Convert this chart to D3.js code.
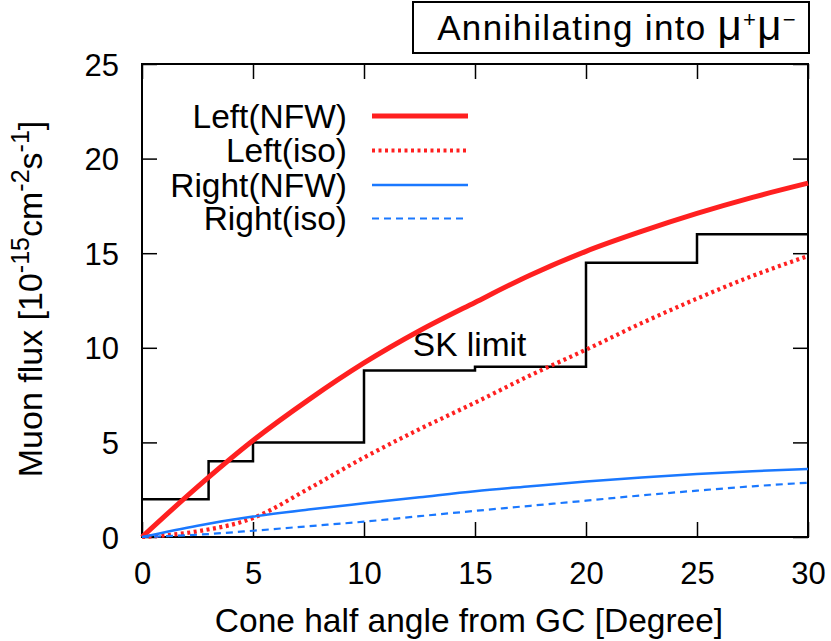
<!DOCTYPE html>
<html>
<head>
<meta charset="utf-8">
<script src="https://cdn.jsdelivr.net/npm/d3@7"></script>
<style>
  body { margin: 0; background: #fff; }
  text { font-family: "Liberation Sans", Arial, sans-serif; fill: #000; }
</style>
</head>
<body>
<div id="chart"></div>
<script>
// values
var angles = [0, 2.5, 5, 7.5, 10, 12.5, 15, 17.5, 20, 22.5, 25, 27.5, 30];
var leftNFW = [0, 2.65, 5.1, 7.25, 9.2, 10.9, 12.4, 13.85, 15.1, 16.15, 17.1, 17.95, 18.7];
var leftIso = [0, 0.3, 1.0, 2.55, 4.2, 5.7, 7.1, 8.55, 9.9, 11.3, 12.6, 13.8, 14.85];
var rightNFW = [0, 0.6, 1.08, 1.45, 1.78, 2.1, 2.42, 2.68, 2.93, 3.15, 3.33, 3.48, 3.6];
var rightIso = [0, 0.12, 0.33, 0.57, 0.81, 1.1, 1.38, 1.65, 1.92, 2.2, 2.45, 2.68, 2.87];

var skEdges = [0, 3, 5, 10, 15, 20, 25, 30];
var skLimit = [2, 4, 5, 8.8, 9, 14.5, 16];

var xTicks = [0, 5, 10, 15, 20, 25, 30];
var yTicks = [0, 5, 10, 15, 20, 25];

var svgWidth = 831;
var svgHeight = 641;
var margin = { top: 64, right: 23, bottom: 104, left: 142 };
var width = svgWidth - margin.left - margin.right;
var height = svgHeight - margin.top - margin.bottom;

var svg = d3.select("#chart").append("svg")
  .attr("width", svgWidth)
  .attr("height", svgHeight);

var g = svg.append("g")
  .attr("transform", "translate(" + margin.left + "," + margin.top + ")");

var x = d3.scaleLinear().domain([0, 30]).range([0, width]);
var y = d3.scaleLinear().domain([0, 25]).range([height, 0]);

// axes, ticks pointing inward, mirrored on top/right
var xAxis = g.append("g")
  .attr("transform", "translate(0," + height + ")")
  .call(d3.axisBottom(x).tickValues(xTicks).tickSize(-15).tickPadding(25));
var yAxis = g.append("g")
  .call(d3.axisLeft(y).tickValues(yTicks).tickSize(-15).tickPadding(23));
g.append("g")
  .call(d3.axisTop(x).tickValues(xTicks).tickSize(-15).tickFormat(""));
g.append("g")
  .attr("transform", "translate(" + width + ",0)")
  .call(d3.axisRight(y).tickValues(yTicks).tickSize(-15).tickFormat(""));

g.selectAll(".domain").remove();
g.selectAll(".tick line").attr("stroke", "#000").attr("stroke-width", 1.5);
xAxis.selectAll("text").style("font-size", "31px");
yAxis.selectAll("text").style("font-size", "31px").attr("dy", "0.36em");

g.append("rect")
  .attr("width", width)
  .attr("height", height)
  .attr("fill", "none")
  .attr("stroke", "#000")
  .attr("stroke-width", 2);

// SK limit step
var skPts = skLimit.map(function(v, i) { return [skEdges[i], v]; });
skPts.push([skEdges[skEdges.length - 1], skLimit[skLimit.length - 1]]);
g.append("path")
  .datum(skPts)
  .attr("fill", "none")
  .attr("stroke", "#000")
  .attr("stroke-width", 2.5)
  .attr("d", d3.line().x(function(d) { return x(d[0]); }).y(function(d) { return y(d[1]); }).curve(d3.curveStepAfter));

g.append("text")
  .attr("x", x(12.2))
  .attr("y", 292)
  .style("font-size", "33.5px")
  .text("SK limit");

var series = [
  { name: "Left(NFW)", vals: leftNFW, color: "#ff2020", w: 5, dash: null },
  { name: "Left(iso)", vals: leftIso, color: "#ff2020", w: 4.2, dash: "3,3.5" },
  { name: "Right(NFW)", vals: rightNFW, color: "#1a78ff", w: 2.5, dash: null },
  { name: "Right(iso)", vals: rightIso, color: "#1a78ff", w: 2.2, dash: "7,5" }
];

var line = d3.line()
  .x(function(d, i) { return x(angles[i]); })
  .y(function(d) { return y(d); })
  .curve(d3.curveMonotoneX);

series.forEach(function(s) {
  g.append("path")
    .datum(s.vals)
    .attr("fill", "none")
    .attr("stroke", s.color)
    .attr("stroke-width", s.w)
    .attr("stroke-dasharray", s.dash)
    .attr("d", line);
});

// legend
var legendY = [116, 150.5, 185, 218.5];
var leg = svg.append("g");
series.forEach(function(s, i) {
  leg.append("text")
    .attr("x", 347)
    .attr("y", legendY[i] + 11.5)
    .attr("text-anchor", "end")
    .style("font-size", "33.5px")
    .text(s.name);
  leg.append("line")
    .attr("x1", 372).attr("x2", 468)
    .attr("y1", legendY[i]).attr("y2", legendY[i])
    .attr("stroke", s.color)
    .attr("stroke-width", s.w)
    .attr("stroke-dasharray", s.dash);
});

// x label
svg.append("text")
  .attr("x", 469)
  .attr("y", 632)
  .attr("text-anchor", "middle")
  .style("font-size", "33.5px")
  .text("Cone half angle from GC [Degree]");

// y label with superscripts
var yl = svg.append("text")
  .attr("transform", "translate(42,299) rotate(-90)")
  .attr("text-anchor", "middle")
  .style("font-size", "34px");
yl.append("tspan").text("Muon flux [10");
yl.append("tspan").attr("dy", -13).style("font-size", "25px").text("-15");
yl.append("tspan").attr("dy", 13).text("cm");
yl.append("tspan").attr("dy", -13).style("font-size", "25px").text("-2");
yl.append("tspan").attr("dy", 13).text("s");
yl.append("tspan").attr("dy", -13).style("font-size", "25px").text("-1");
yl.append("tspan").attr("dy", 13).text("]");

// title box
svg.append("rect")
  .attr("x", 413).attr("y", 2)
  .attr("width", 396).attr("height", 51)
  .attr("fill", "#fff")
  .attr("stroke", "#000")
  .attr("stroke-width", 2);
var tt = svg.append("text")
  .attr("x", 617)
  .attr("y", 40)
  .attr("text-anchor", "middle")
  .style("font-size", "35px")
  .style("letter-spacing", "1.3px");
tt.append("tspan").text("Annihilating into ");
tt.append("tspan").style("font-size", "42px").text("μ");
tt.append("tspan").attr("dy", -13).style("font-size", "22px").text("+");
tt.append("tspan").attr("dy", 13).style("font-size", "42px").text("μ");
tt.append("tspan").attr("dy", -13).style("font-size", "22px").text("−");
</script>
</body>
</html>
